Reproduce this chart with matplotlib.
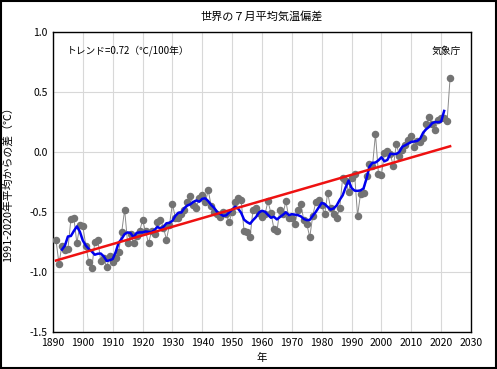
import numpy as np
import matplotlib
matplotlib.use("Agg")
import matplotlib.pyplot as plt
from matplotlib.patches import Rectangle

plt.rcParams['font.family'] = ['Noto Sans CJK JP', 'DejaVu Sans']

# 7月の世界平均気温偏差 (1991-2020年平均からの差)
years = np.arange(1891, 2024)
anomaly = [
    -0.73, -0.93, -0.78, -0.82, -0.81, -0.56, -0.55, -0.76, -0.61, -0.62,  # 1891-1900
    -0.78, -0.92, -0.97, -0.75, -0.73, -0.91, -0.88, -0.96, -0.87, -0.92,  # 1901-1910
    -0.88, -0.83, -0.67, -0.48, -0.76, -0.68, -0.76, -0.70, -0.66, -0.57,  # 1911-1920
    -0.66, -0.76, -0.66, -0.68, -0.58, -0.57, -0.63, -0.73, -0.61, -0.43,  # 1921-1930
    -0.55, -0.55, -0.52, -0.48, -0.42, -0.37, -0.44, -0.47, -0.38, -0.36,  # 1931-1940
    -0.42, -0.32, -0.45, -0.50, -0.52, -0.54, -0.50, -0.52, -0.58, -0.50,  # 1941-1950
    -0.42, -0.38, -0.40, -0.66, -0.67, -0.71, -0.48, -0.47, -0.51, -0.54,  # 1951-1960
    -0.52, -0.41, -0.51, -0.64, -0.66, -0.48, -0.52, -0.41, -0.55, -0.55,  # 1961-1970
    -0.60, -0.48, -0.43, -0.57, -0.60, -0.71, -0.53, -0.42, -0.40, -0.44,  # 1971-1980
    -0.52, -0.34, -0.47, -0.52, -0.55, -0.47, -0.22, -0.24, -0.33, -0.22,  # 1981-1990
    -0.18, -0.53, -0.35, -0.34, -0.20, -0.10, -0.12, 0.15, -0.18, -0.19,  # 1991-2000
    -0.01, 0.01, -0.02, -0.12, 0.07, -0.03, 0.02, 0.06, 0.10, 0.13,  # 2001-2010
    0.04, 0.09, 0.08, 0.12, 0.23, 0.29, 0.23, 0.18, 0.27, 0.28,  # 2011-2020
    0.28, 0.26, 0.62,  # 2021-2023
]
anomaly = np.array(anomaly)

x_ticks = np.arange(1890, 2031, 10)
y_ticks = [-1.5, -1.0, -0.5, 0.0, 0.5, 1.0]

# 5年移動平均 (中心)
run_mean = np.convolve(anomaly, np.ones(5) / 5, mode="valid")
run_years = years[2:-2]

# 長期変化傾向
coef = np.polyfit(years, anomaly, 1)
trend = coef[0] * years + coef[1]

fig = plt.figure(figsize=(4.97, 3.69), dpi=100)
ax = fig.add_axes([0.1066, 0.1003, 0.8411, 0.8130])

ax.plot(years, anomaly, color="#8a8a8a", linewidth=0.7, marker="o",
        markersize=4.4, markerfacecolor="#737373", markeredgecolor="#737373", zorder=3)
ax.plot(run_years, run_mean, color="#0000ee", linewidth=1.8, zorder=4)
ax.plot(years, trend, color="#ee1111", linewidth=1.8, zorder=5)

ax.set_xlim(1890, 2030)
ax.set_ylim(-1.5, 1.0)
ax.set_xticks(x_ticks)
ax.set_yticks(y_ticks)
ax.set_yticklabels(["{0:.1f}".format(v) for v in y_ticks])
ax.tick_params(length=0, pad=4, labelsize=7.5)
ax.grid(color="#d8d8d8", linewidth=0.8)
ax.set_axisbelow(True)
for sp in ax.spines.values():
    sp.set_linewidth(1.0)

ax.set_xlabel("年", fontsize=7.5, labelpad=4)
ax.set_ylabel("1991-2020年平均からの差（℃）", fontsize=7.8, labelpad=12)
ax.set_title("世界の７月平均気温偏差", fontsize=8, pad=9)

ax.text(0.033, 0.955, "トレンド=0.72（℃/100年）", transform=ax.transAxes,
        fontsize=7, va="top", ha="left")
ax.text(0.975, 0.955, "気象庁", transform=ax.transAxes,
        fontsize=7, va="top", ha="right")

# 外枠
fig.patches.append(Rectangle((0.003, 0.004), 0.994, 0.992, transform=fig.transFigure,
                             fill=False, edgecolor="black", linewidth=1.5))

plt.savefig("out.png", dpi=100)
